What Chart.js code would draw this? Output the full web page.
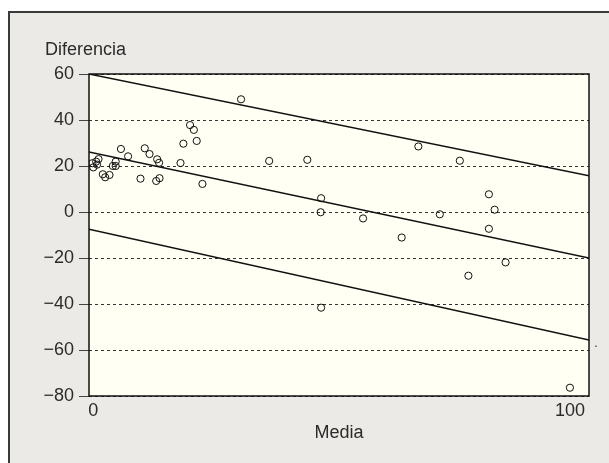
<!DOCTYPE html>
<html>
<head>
<meta charset="utf-8">
<script src="https://cdn.jsdelivr.net/npm/chart.js@4/dist/chart.umd.min.js"></script>
<style>
  html, body { margin: 0; padding: 0; background: #ffffff; }
  #panel {
    position: absolute; left: 8px; top: 11px; right: 0; bottom: 0;
    background: #ebeae6;
    border-left: 2px solid #3a3a3a;
    border-top: 2px solid #3a3a3a;
  }
  #c { position: absolute; left: 0; top: 0; }
</style>
</head>
<body>
<div id="panel"></div>
<canvas id="c" width="609" height="463"></canvas>
<script>
// Mean of the two methods (x) and their difference (y), one entry per subject
const media = [
  31.0, 20.3, 21.1, 21.7, 18.9, 18.3, 22.9, 36.9, 44.9, 68.2,
  76.9, 47.8, 47.7, 56.6, 72.7, 64.7, 83.0, 84.2, 83.0, 86.5,
  78.7, 47.8, 100.0, 5.8, 7.3, 10.8, 11.8, 9.9, 13.4, 13.8,
  13.2, 13.9, 4.7, 4.7, 4.1, 3.4, 2.0, 2.5, 1.1, 0.6,
  0.8, -0.2, 0.0
];
const diferencia = [
  49.0, 37.8, 35.7, 30.9, 29.7, 21.3, 12.2, 22.2, 22.7, 28.5,
  22.3, 6.0, -0.1, -2.8, -1.0, -11.1, 7.7, 1.0, -7.3, -21.9,
  -27.7, -41.6, -76.4, 27.4, 24.2, 27.7, 25.2, 14.5, 22.9, 21.4,
  13.5, 14.7, 21.9, 20.0, 20.0, 16.1, 16.4, 15.1, 23.0, 21.9,
  20.6, 21.2, 19.4
];

// Regression line of the differences and its upper / lower limits,
// given by their values at both ends of the x range
const xRange = [-0.9, 104];
const upperLimit = [60.0, 15.7];
const meanLine = [26.1, -20.0];
const lowerLimit = [-7.5, -55.7];

const yTicks = [-80, -60, -40, -20, 0, 20, 40, 60];
const xTicks = [0, 100];

const FONT = '"Liberation Sans", Arial, Helvetica, sans-serif';
const INK = '#2b2b2b';

const toPoints = (xs, ys) => xs.map((x, i) => ({ x: x, y: ys[i] }));
const lineDataset = (ys) => ({
  type: 'line',
  data: toPoints(xRange, ys),
  borderColor: '#111111',
  borderWidth: 1.5,
  pointRadius: 0,
  fill: false,
  tension: 0
});

const frame = {
  id: 'frame',
  beforeDraw(chart) {
    const { ctx, chartArea: a } = chart;
    ctx.save();
    ctx.fillStyle = '#fffff3';
    ctx.fillRect(a.left, a.top, a.right - a.left, a.bottom - a.top);
    ctx.restore();
  },
  afterDraw(chart) {
    const { ctx, chartArea: a } = chart;
    ctx.save();
    ctx.strokeStyle = '#111111';
    ctx.lineWidth = 1.5;
    ctx.strokeRect(a.left, a.top, a.right - a.left, a.bottom - a.top);
    ctx.fillStyle = INK;
    ctx.font = '18px ' + FONT;
    ctx.textBaseline = 'alphabetic';
    ctx.textAlign = 'left';
    ctx.fillText('Diferencia', 45, 55);
    ctx.textAlign = 'center';
    ctx.fillText('Media', (a.left + a.right) / 2, 438);
    ctx.font = '12px ' + FONT;
    ctx.fillText('.', 596, 347);
    ctx.restore();
  }
};

new Chart(document.getElementById('c'), {
  type: 'scatter',
  data: {
    datasets: [
      {
        data: toPoints(media, diferencia),
        pointRadius: 3.6,
        pointHoverRadius: 3.6,
        borderWidth: 1,
        borderColor: '#111111',
        backgroundColor: 'rgba(255,255,255,0)'
      },
      lineDataset(upperLimit),
      lineDataset(meanLine),
      lineDataset(lowerLimit)
    ]
  },
  options: {
    responsive: false,
    animation: false,
    devicePixelRatio: 1,
    layout: { padding: { left: 0, top: 74, right: 20, bottom: 0 } },
    plugins: { legend: { display: false }, tooltip: { enabled: false } },
    scales: {
      x: {
        type: 'linear',
        min: xRange[0],
        max: xRange[1],
        afterFit(s) { s.height = 67; },
        afterBuildTicks(s) { s.ticks = xTicks.map(v => ({ value: v })); },
        grid: { display: false, drawTicks: false },
        border: { display: false },
        ticks: {
          padding: 4,
          color: INK,
          font: { family: FONT, size: 18 },
          maxRotation: 0,
          autoSkip: false
        }
      },
      y: {
        type: 'linear',
        min: -80,
        max: 60,
        afterFit(s) { s.width = 89; },
        afterBuildTicks(s) { s.ticks = yTicks.map(v => ({ value: v })); },
        grid: {
          color: '#333333',
          lineWidth: 1,
          drawTicks: true,
          tickLength: 10,
          tickColor: '#444444',
          tickWidth: 1,
          tickBorderDash: []
        },
        border: { display: false, dash: [3, 3] },
        ticks: {
          padding: 5,
          color: INK,
          font: { family: FONT, size: 18 },
          autoSkip: false,
          callback: (v) => (v < 0 ? '\u2212' + Math.abs(v) : String(v))
        }
      }
    }
  },
  plugins: [frame]
});
</script>
</body>
</html>
